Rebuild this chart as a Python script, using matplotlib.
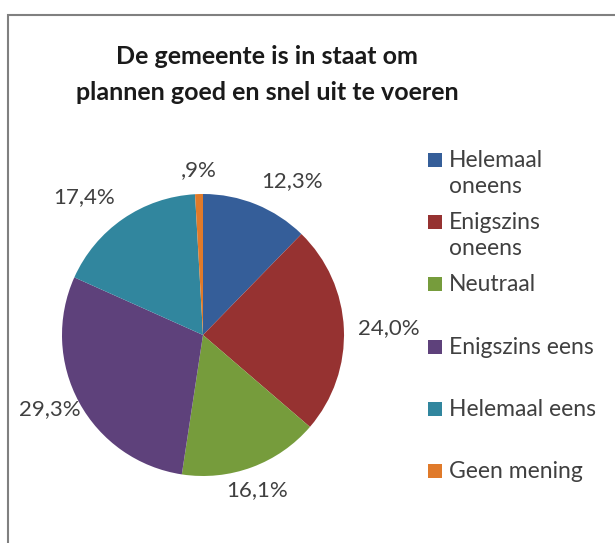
import matplotlib

matplotlib.use("Agg")
import matplotlib.pyplot as plt  # noqa: E402
import numpy as np  # noqa: E402
from matplotlib.patches import Rectangle  # noqa: E402

plt.rcParams["font.family"] = ["Lato", "DejaVu Sans"]

# Data
categories = ["Helemaal\noneens", "Enigszins\noneens", "Neutraal",
              "Enigszins eens", "Helemaal eens", "Geen mening"]
values = [12.3, 24.0, 16.1, 29.3, 17.4, 0.9]
pct_labels = ["12,3%", "24,0%", "16,1%", "29,3%", "17,4%", ",9%"]
colors = ["#355E99", "#963231", "#769C3C", "#5E417B", "#31869E", "#E07A2A"]
title_lines = ["De gemeente is in staat om", "plannen goed en snel uit te voeren"]

W, H = 615, 543
fig = plt.figure(figsize=(W / 100, H / 100), dpi=100)

# chart area border (only left and top visible, rest cropped)
fig.patches.append(Rectangle((8 / W, -0.05), 1.2, 1.05 - 15 / H,
                             transform=fig.transFigure, fill=False,
                             edgecolor="#808080", linewidth=1.5))

# pie: centre ~(203, 335) px, radius ~141 px
cx, cy, r = 203, 335, 141
ax = fig.add_axes([(cx - r) / W, (H - cy - r) / H, 2 * r / W, 2 * r / H])
wedges, texts = ax.pie(values, labels=pct_labels, colors=colors,
                       startangle=90, counterclock=False,
                       labeldistance=1.1,
                       textprops=dict(fontsize=16, color="#404040"))
ax.set_xlim(-1, 1)
ax.set_ylim(-1, 1)
ax.set_aspect("equal")

# Excel-like label anchoring: nearest box edge faces the pie
for t in texts:
    x, y = t.get_position()
    a = np.arctan2(y, x)
    c, s = np.cos(a), np.sin(a)
    if c < -0.36 and abs(s) < 0.5:
        t.set_x(x + 0.1)  # left-side label sits close to the rim
    t.set_ha("left" if c > 0.36 else "right" if c < -0.36 else "center")
    t.set_va("bottom" if s > 0.5 else "top" if s < -0.5 else "center")

# title, one line at a time (Excel spacing)
for i, line in enumerate(title_lines):
    fig.text(0.434, 1 - (56 + i * 36.5) / H, line, ha="center", va="center",
             fontsize=18, fontweight="bold", color="#1a1a1a")

# legend, drawn by hand to follow the Excel layout
y0, step = 160, 62.2
for i, (lab, col) in enumerate(zip(categories, colors)):
    yc = y0 + i * step
    fig.patches.append(Rectangle((428 / W, 1 - (yc + 7) / H), 14 / W, 14 / H,
                                 transform=fig.transFigure, facecolor=col,
                                 edgecolor="none"))
    fig.text(449 / W, 1 - (yc - 10) / H, lab, ha="left", va="top",
             fontsize=16.5, color="#404040", linespacing=1.3)

fig.savefig("out.png", dpi=100)
